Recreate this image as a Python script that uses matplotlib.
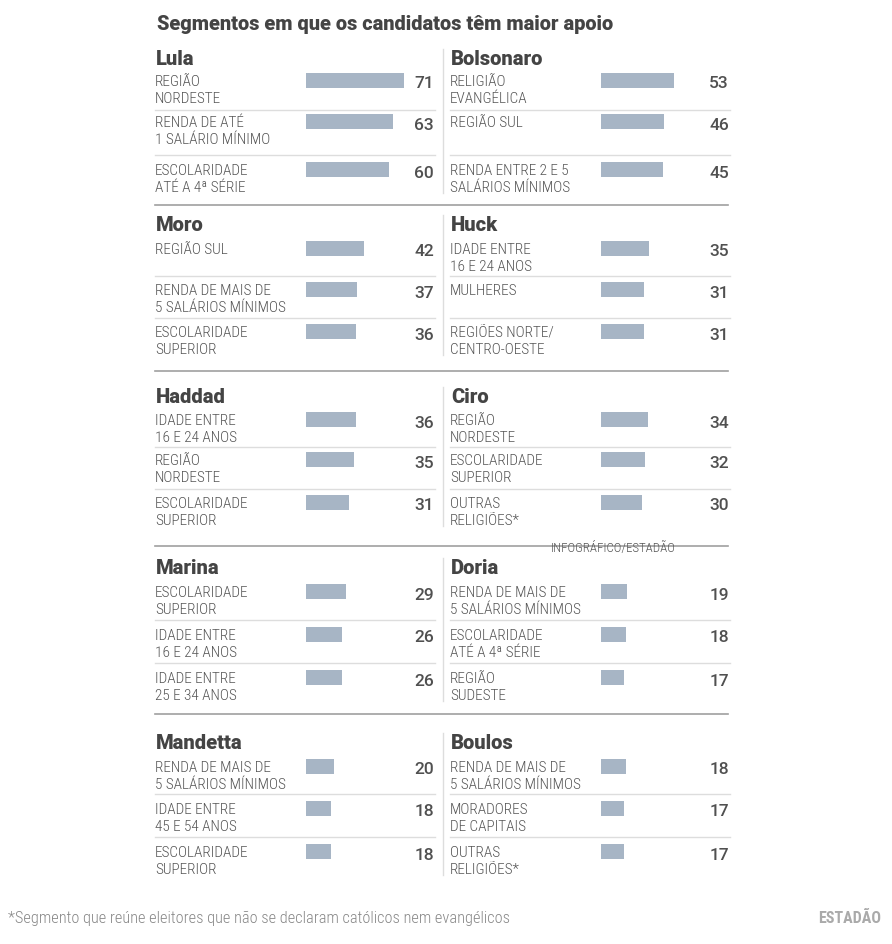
import matplotlib
matplotlib.use("Agg")
import matplotlib.pyplot as plt
from matplotlib import font_manager

# ---------------- data ----------------
title = "Segmentos em que os candidatos têm maior apoio"
footnote = "*Segmento que reúne eleitores que não se declaram católicos nem evangélicos"
credit = "INFOGRÁFICO/ESTADÃO"
brand = "ESTADÃO"

candidates_left = ["Lula", "Moro", "Haddad", "Marina", "Mandetta"]
candidates_right = ["Bolsonaro", "Huck", "Ciro", "Doria", "Boulos"]

lula_segments = ["REGIÃO\nNORDESTE", "RENDA DE ATÉ\n1 SALÁRIO MÍNIMO", "ESCOLARIDADE\nATÉ A 4ª SÉRIE"]
lula_values = [71, 63, 60]
bolsonaro_segments = ["RELIGIÃO\nEVANGÉLICA", "REGIÃO SUL", "RENDA ENTRE 2 E 5\nSALÁRIOS MÍNIMOS"]
bolsonaro_values = [53, 46, 45]
moro_segments = ["REGIÃO SUL", "RENDA DE MAIS DE\n5 SALÁRIOS MÍNIMOS", "ESCOLARIDADE\nSUPERIOR"]
moro_values = [42, 37, 36]
huck_segments = ["IDADE ENTRE\n16 E 24 ANOS", "MULHERES", "REGIÕES NORTE/\nCENTRO-OESTE"]
huck_values = [35, 31, 31]
haddad_segments = ["IDADE ENTRE\n16 E 24 ANOS", "REGIÃO\nNORDESTE", "ESCOLARIDADE\nSUPERIOR"]
haddad_values = [36, 35, 31]
ciro_segments = ["REGIÃO\nNORDESTE", "ESCOLARIDADE\nSUPERIOR", "OUTRAS\nRELIGIÕES*"]
ciro_values = [34, 32, 30]
marina_segments = ["ESCOLARIDADE\nSUPERIOR", "IDADE ENTRE\n16 E 24 ANOS", "IDADE ENTRE\n25 E 34 ANOS"]
marina_values = [29, 26, 26]
doria_segments = ["RENDA DE MAIS DE\n5 SALÁRIOS MÍNIMOS", "ESCOLARIDADE\nATÉ A 4ª SÉRIE", "REGIÃO\nSUDESTE"]
doria_values = [19, 18, 17]
mandetta_segments = ["RENDA DE MAIS DE\n5 SALÁRIOS MÍNIMOS", "IDADE ENTRE\n45 E 54 ANOS", "ESCOLARIDADE\nSUPERIOR"]
mandetta_values = [20, 18, 18]
boulos_segments = ["RENDA DE MAIS DE\n5 SALÁRIOS MÍNIMOS", "MORADORES\nDE CAPITAIS", "OUTRAS\nRELIGIÕES*"]
boulos_values = [18, 17, 17]

segments = {
    "Lula": lula_segments, "Bolsonaro": bolsonaro_segments, "Moro": moro_segments,
    "Huck": huck_segments, "Haddad": haddad_segments, "Ciro": ciro_segments,
    "Marina": marina_segments, "Doria": doria_segments, "Mandetta": mandetta_segments,
    "Boulos": boulos_segments,
}
values = {
    "Lula": lula_values, "Bolsonaro": bolsonaro_values, "Moro": moro_values,
    "Huck": huck_values, "Haddad": haddad_values, "Ciro": ciro_values,
    "Marina": marina_values, "Doria": doria_values, "Mandetta": mandetta_values,
    "Boulos": boulos_values,
}

# ---------------- style ----------------
installed = {f.name for f in font_manager.fontManager.ttflist}
cond = [f for f in ["Roboto Condensed", "Liberation Sans Narrow"] if f in installed] + ["DejaVu Sans"]
base = [f for f in ["Roboto", "DejaVu Sans"] if f in installed] + ["DejaVu Sans"]

BAR = "#a7b5c5"
TXT = "#555555"
DARK = "#444444"
VAL = "#505050"
SEP = "#dddddd"
BLOCKSEP = "#a0a0a0"

W, H = 892, 944
fig = plt.figure(figsize=(W / 100, H / 100), dpi=100)
ax = fig.add_axes([0, 0, 1, 1])
ax.set_xlim(0, W)
ax.set_ylim(H, 0)
ax.axis("off")

ax.text(157, 30, title, fontsize=14.4, fontweight=900, color=DARK,
        family=base, va="baseline", ha="left")

block_tops = [59, 225, 397, 568, 743]
row_offs = [[21, 62, 110], [23, 64, 106], [22, 62, 105], [23, 66, 109], [23, 65, 108]]
sep_offs = [[51, 96], [51, 93], [50, 92], [52, 95], [51, 94]]
bottom_offs = [146, 146, 149, 146]
px_per_unit = 1.38
bar_h = 15

cols = [
    dict(names=candidates_left, x0=155, bar0=306, vx=434, x1=435),
    dict(names=candidates_right, x0=450, bar0=601, vx=729, x1=730),
]

for bi, top in enumerate(block_tops):
    for col in cols:
        name = col["names"][bi]
        ax.text(col["x0"] + 1, top + 6, name, fontsize=14.5, fontweight=900,
                color=DARK, family=base, va="baseline", ha="left")
        segs = segments[name]
        vals = values[name]
        ys = [top + o for o in row_offs[bi]]
        ax.barh(ys, [v * px_per_unit for v in vals], height=bar_h,
                left=col["bar0"], color=BAR, edgecolor="none")
        for y, s, v in zip(ys, segs, vals):
            for li, line in enumerate(s.split("\n")):
                ax.text(col["x0"], y + 6 + li * 17, line, fontsize=11, fontweight="light",
                        color=TXT, family=cond, va="baseline", ha="left")
            ax.text(col["vx"], y + 8.5, str(v), fontsize=12.5, fontweight=500,
                    color=VAL, family=base, va="baseline", ha="right")
        for so in sep_offs[bi]:
            ax.plot([col["x0"], col["x1"]], [top + so, top + so], color=SEP, lw=1.0)
    # vertical divider between columns
    ax.plot([443, 443], [top - 10, top + row_offs[bi][2] + 24], color=SEP, lw=1.0)
    if bi < len(bottom_offs):
        ax.plot([155, 728], [top + bottom_offs[bi], top + bottom_offs[bi]],
                color=BLOCKSEP, lw=1.2)

ax.text(613, block_tops[2] + bottom_offs[2] + 6, credit, fontsize=9.3, fontweight="light",
        color=TXT, family=cond, va="baseline", ha="center")

ax.text(8, 923, footnote, fontsize=11.8, fontweight="light", color="#888888", family=cond,
        va="baseline", ha="left")
ax.text(818, 923, brand, fontsize=11.5, fontweight="bold", color="#aaaaaa",
        family=cond, va="baseline", ha="left")

fig.savefig("out.png", dpi=100)
